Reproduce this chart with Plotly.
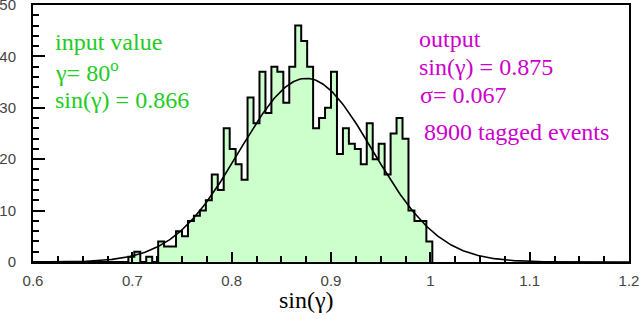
import numpy as np
import plotly.graph_objects as go

# Histogram: 100 bins of width 0.006 from 0.6 to 1.2 (1000 entries)
bin_start = 0.6
bin_width = 0.006
counts = [0]*16 + [1, 2, 0, 1, 0, 4, 3, 3, 6, 5, 8, 9, 10, 12, 17, 14, 26, 22, 19, 16,
                   32, 27, 37, 29, 38, 37, 31, 38, 46, 43, 38, 26, 28, 30, 37, 21, 26, 23,
                   22, 19, 27, 20, 23, 17, 25, 28, 24, 10, 8, 8, 4]

# Gaussian fit parameters
fit_mean = 0.875
fit_sigma = 0.067
n_entries = 1000

x_ticks = [0.6, 0.7, 0.8, 0.9, 1.0, 1.1, 1.2]
x_ticklabels = ["0.6", "0.7", "0.8", "0.9", "1", "1.1", "1.2"]
y_ticks = [0, 10, 20, 30, 40, 50]

green_text = ["input value", "γ= 80<sup>o</sup>", "sin(γ) = 0.866"]
magenta_text = ["output", "sin(γ) = 0.875", "σ= 0.067", "8900 tagged events"]

edges = [bin_start + bin_width*i for i in range(len(counts)+1)]
hx = edges + [edges[-1]]
hy = counts + [counts[-1], 0]

fx = np.linspace(0.6, 1.2, 400)
fy = n_entries*bin_width/(fit_sigma*np.sqrt(2*np.pi))*np.exp(-0.5*((fx-fit_mean)/fit_sigma)**2)

fig = go.Figure()
fig.add_trace(go.Scatter(x=hx, y=hy, mode="lines", line=dict(shape="hv", color="black", width=2),
                         fill="tozeroy", fillcolor="#ccffcc", hoverinfo="skip"))
fig.add_trace(go.Scatter(x=fx, y=fy, mode="lines", line=dict(color="black", width=1.6), hoverinfo="skip"))

W, H = 640, 319
L, R, T, B = 33.3, 629.5, 5, 261.7

def dx(px):
    return 0.6 + (px - L)/(R - L)*0.6

def dy(py):
    return (B - py)/(B - T)*50

serif = "Liberation Serif, Times New Roman, serif"
anns = []
for t, py in zip(green_text, [42, 71, 100]):
    anns.append(dict(x=dx(53), y=dy(py), xref="x", yref="y", text=t, showarrow=False,
                     xanchor="left", yanchor="middle",
                     font=dict(family=serif, size=24, color="#22cc22")))
for t, px, py in zip(magenta_text, [417, 417.7, 418.7, 422], [39, 67, 95, 132]):
    anns.append(dict(x=dx(px), y=dy(py), xref="x", yref="y", text=t, showarrow=False,
                     xanchor="left", yanchor="middle",
                     font=dict(family=serif, size=24, color="#cc00cc")))
anns.append(dict(x=(307-L)/(R-L), y=-(300-B)/(B-T), xref="paper", yref="paper", text="sin(γ)",
                 showarrow=False, xanchor="center", yanchor="middle",
                 font=dict(family=serif, size=24, color="black")))

fig.update_layout(
    width=W, height=H, showlegend=False,
    margin=dict(l=L, r=W-R, t=T, b=H-B, pad=0, autoexpand=False),
    paper_bgcolor="white", plot_bgcolor="white",
    annotations=anns,
    xaxis=dict(range=[0.6, 1.2], tickvals=x_ticks, ticktext=x_ticklabels, ticks="inside",
               ticklen=10, tickwidth=1.5, tickcolor="black", automargin=False,
               minor=dict(dtick=0.025, tick0=0.6, ticks="inside", ticklen=6, tickwidth=1.5, tickcolor="black"),
               showline=True, linecolor="black", linewidth=2, mirror=True, showgrid=False, zeroline=False,
               tickfont=dict(family="Liberation Sans, Arial", size=15, color="#444"),
               ticklabelstandoff=4, ticklabeloverflow="allow"),
    yaxis=dict(range=[0, 50], tickvals=y_ticks, ticks="inside",
               ticklen=12, tickwidth=1.5, tickcolor="black", automargin=False,
               minor=dict(dtick=2, tick0=0, ticks="inside", ticklen=6, tickwidth=1.5, tickcolor="black"),
               showline=True, linecolor="black", linewidth=2, mirror=True, showgrid=False, zeroline=False,
               tickfont=dict(family="Liberation Sans, Arial", size=15, color="#444"),
               ticklabelstandoff=12, ticklabeloverflow="allow"),
)

fig.write_html("out.html", config={"displayModeBar": False},
               post_script="document.body.style.margin='0px';document.body.style.overflow='hidden';")
